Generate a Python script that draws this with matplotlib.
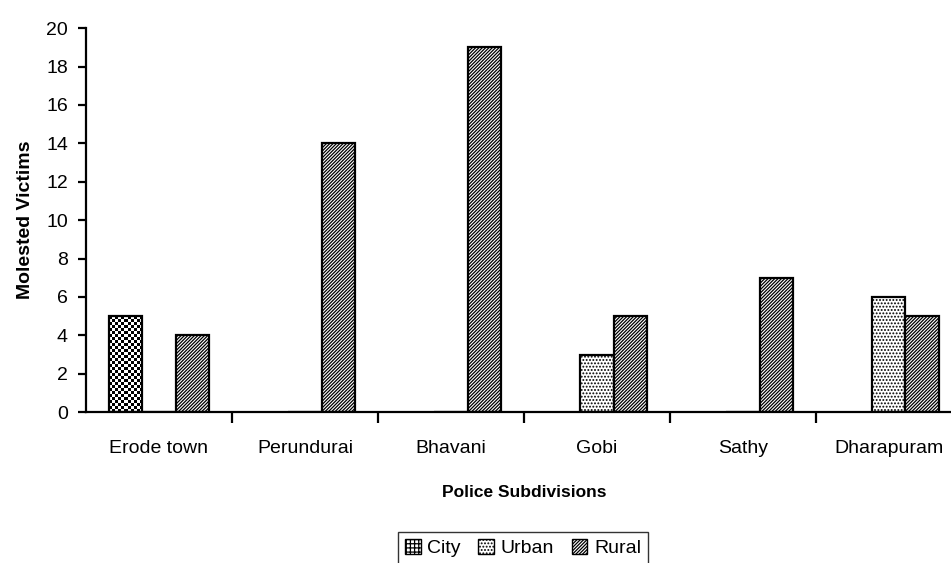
import numpy as np
import matplotlib.pyplot as plt
from matplotlib.patches import Rectangle

plt.rcParams['font.family'] = ['Liberation Sans', 'DejaVu Sans']
plt.rcParams['hatch.linewidth'] = 0.9

subdivisions = ["Erode town", "Perundurai", "Bhavani", "Gobi", "Sathy", "Dharapuram"]
city = [5, 0, 0, 0, 0, 0]
urban = [0, 0, 0, 3, 0, 6]
rural = [4, 14, 19, 5, 7, 5]

fig = plt.figure(figsize=(9.51, 5.63), dpi=100)
ax = fig.add_axes([0.0904, 0.268, 0.921, 0.682])

x = np.arange(len(subdivisions))
w = 0.228

# checkerboard texture for the City bars (clipped to each bar)
checker = np.indices((128, 11)).sum(axis=0) % 2

def checker_bar(xc, h):
    if h <= 0:
        return
    r = Rectangle((xc - w / 2, 0), w, h, facecolor='white', edgecolor='none', zorder=2)
    ax.add_patch(r)
    im = ax.imshow(checker, cmap='gray', extent=(xc - w / 2, xc + w / 2, 0, 20),
                   aspect='auto', interpolation='nearest', zorder=2.5)
    im.set_clip_path(r)
    ax.add_patch(Rectangle((xc - w / 2, 0), w, h, facecolor='none', edgecolor='black',
                           lw=1.6, zorder=3))

for xi, h in zip(x - w, city):
    checker_bar(xi, h)

ax.bar(x, urban, w, facecolor='white', edgecolor='black', hatch='.....', lw=1.6, zorder=2)
ax.bar(x + w, rural, w, facecolor='white', edgecolor='black', hatch='/' * 10, lw=1.6, zorder=2)

ax.set_xlim(-0.5, len(subdivisions) - 0.5)
ax.set_ylim(0, 20)
ax.set_yticks(range(0, 21, 2))
ax.set_xticks(x)
ax.set_xticklabels(subdivisions)
ax.set_xticks(x[:-1] + 0.5, minor=True)
ax.tick_params(axis='x', which='major', length=0, pad=20, labelsize=14)
ax.tick_params(axis='x', which='minor', length=8, width=1.6, direction='out')
ax.tick_params(axis='y', length=6, width=1.6, direction='out', labelsize=14, pad=7)

for s in ['top', 'right']:
    ax.spines[s].set_visible(False)
for s in ['left', 'bottom']:
    ax.spines[s].set_linewidth(1.6)

ax.set_xlabel("Police Subdivisions", fontsize=12.5, fontweight='bold', labelpad=20)
ax.set_ylabel("Molested Victims", fontsize=14, fontweight='bold', labelpad=9)

# legend handles
h_city = Rectangle((0, 0), 1, 1, facecolor='white', edgecolor='black', hatch='++++')
h_urban = Rectangle((0, 0), 1, 1, facecolor='white', edgecolor='black', hatch='.....')
h_rural = Rectangle((0, 0), 1, 1, facecolor='white', edgecolor='black', hatch='/' * 10)
leg = fig.legend([h_city, h_urban, h_rural], ["City", "Urban", "Rural"], ncol=3,
                 loc='upper center', bbox_to_anchor=(523 / 951, 1 - 532 / 563),
                 frameon=True, fancybox=False, fontsize=14,
                 handlelength=0.8, handleheight=0.8, handletextpad=0.35,
                 columnspacing=0.9, borderpad=0.35, borderaxespad=0)
leg.get_frame().set_edgecolor('black')
leg.get_frame().set_linewidth(1.0)

fig.savefig('out.png', dpi=100)
